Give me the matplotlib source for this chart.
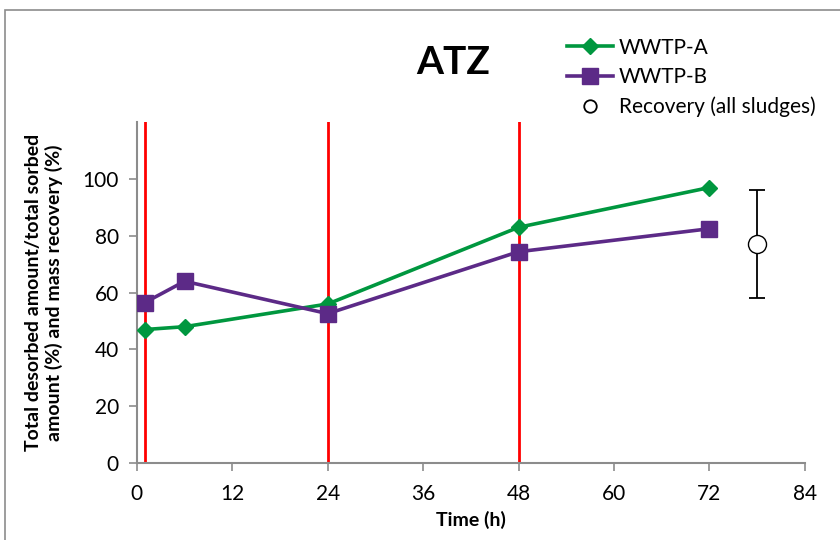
import matplotlib.pyplot as plt
from matplotlib.lines import Line2D
from matplotlib.patches import Rectangle

plt.rcParams['font.family'] = ['Lato', 'DejaVu Sans']

# sampling times (h)
time_a = [1, 6, 24, 48, 72]
time_b = [1, 6, 24, 48, 72]
wwtp_a = [47, 48, 56, 83, 97]
wwtp_b = [56.5, 64, 52.6, 74.4, 82.5]

# recovery over all sludges
recovery_t = [78]
recovery = [77]
recovery_err = [19]

# solvent exchange times
marker_times = [1, 24, 48]

x_ticks = [0, 12, 24, 36, 48, 60, 72, 84]
y_ticks = [0, 20, 40, 60, 80, 100]

fig = plt.figure(figsize=(8.4, 5.4), dpi=100)
ax = fig.add_axes([0.163, 0.1426, 0.795, 0.631])

fig.patches.append(Rectangle((5 / 840, -0.1), 1.2, 1 - 10 / 540 + 0.1,
                             transform=fig.transFigure, fill=False,
                             edgecolor='#8c8c8c', linewidth=1.2))

for t in marker_times:
    ax.axvline(t, color='#ff0000', linewidth=2, zorder=1)

ax.plot(time_a, wwtp_a, color='#00973f', linewidth=2.6, marker='D',
        markersize=8, label='WWTP-A', zorder=3)
ax.plot(time_b, wwtp_b, color='#5c2a87', linewidth=2.6, marker='s',
        markersize=11, label='WWTP-B', zorder=3)
ax.errorbar(recovery_t, recovery, yerr=recovery_err, fmt='o', color='black',
            markerfacecolor='white', markeredgecolor='black', markersize=13,
            elinewidth=1.3, capsize=6, capthick=1.3, zorder=4)

ax.set_xlim(0, 84)
ax.set_ylim(0, 120)
ax.set_xticks(x_ticks)
ax.set_yticks(y_ticks)
ax.tick_params(labelsize=15, length=6, width=1.2, color='#8c8c8c', direction='out')
ax.tick_params(axis='x', pad=9)
ax.tick_params(axis='y', pad=7)
for side in ['top', 'right']:
    ax.spines[side].set_visible(False)
for side in ['left', 'bottom']:
    ax.spines[side].set_color('#8c8c8c')
    ax.spines[side].set_linewidth(1.5)

ax.set_xlabel('Time (h)', fontsize=14, fontweight='bold', labelpad=5)
ax.set_ylabel('Total desorbed amount/total sorbed\namount (%) and mass recovery (%)',
              fontsize=14, fontweight='bold', labelpad=14)

fig.text(453 / 840, 1 - 62 / 540, 'ATZ', fontsize=28, fontweight='bold',
         ha='center', va='center')

handles, labels = ax.get_legend_handles_labels()
handles.append(Line2D([], [], linestyle='none', marker='o', markersize=9,
                      markerfacecolor='white', markeredgecolor='black',
                      markeredgewidth=1.3))
labels.append('Recovery (all sludges)')
fig.legend(handles, labels, loc='upper left',
           bbox_to_anchor=(548 / 840, 1 - 19 / 540), frameon=False,
           fontsize=15, handlelength=2.2, handletextpad=0.3,
           labelspacing=0.45)

plt.savefig('out.png')
